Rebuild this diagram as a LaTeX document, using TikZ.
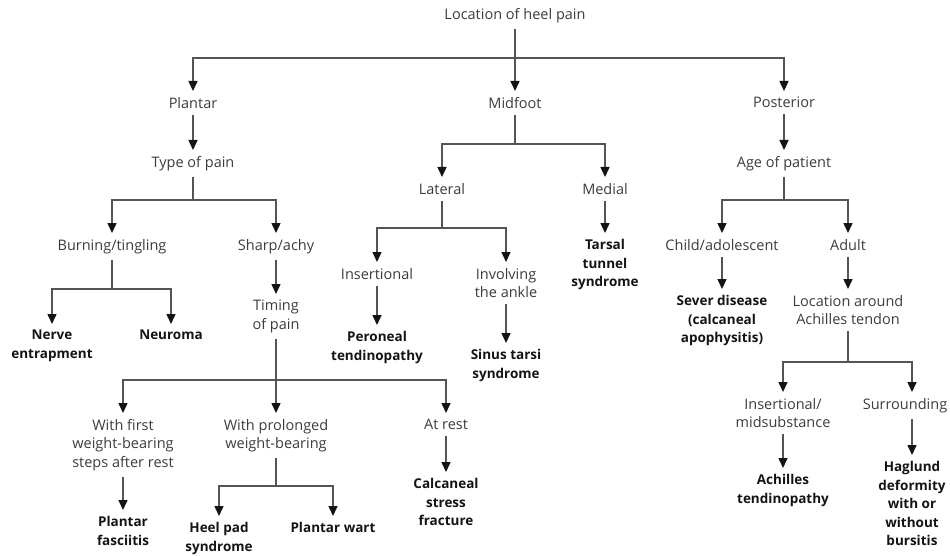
\documentclass[tikz,border=0pt]{standalone}
\usepackage{fontspec}
\setmainfont{Open Sans}
\usetikzlibrary{arrows.meta}
\definecolor{txt}{HTML}{3C3C3C}
\definecolor{bld}{HTML}{141414}
\definecolor{ln}{HTML}{555555}
\tikzset{
  lbl/.style={anchor=north, inner xsep=1pt, inner ysep=6pt, align=center,
    font=\fontsize{14.5}{18.5}\selectfont, text=txt},
  res/.style={lbl, font=\fontsize{13.5}{18.6}\selectfont\bfseries, text=bld},
  conn/.style={draw=ln, line width=1.5pt},
  arr/.style={conn, -{Triangle[width=9pt,length=10pt,color=bld]}}
}
\begin{document}
\begin{tikzpicture}[x=1pt,y=-1pt]
\useasboundingbox (0,0) rectangle (950,556);
% nodes
\node[lbl, anchor=center] (root) at (515,16) {Location of heel pain};
\node[lbl] (plantar) at (193,91) {Plantar};
\node[lbl] (midfoot) at (515,91) {Midfoot};
\node[lbl] (posterior) at (784,91) {Posterior};
% plantar branch
\node[lbl] (type) at (193,150) {Type of pain};
\node[lbl] (burn) at (112,233) {Burning/tingling};
\node[lbl] (sharp) at (276,233) {Sharp/achy};
\node[res] (nerve) at (52,324) {Nerve\\entrapment};
\node[res] (neuroma) at (171,324) {Neuroma};
\node[lbl] (timing) at (276,294) {Timing\\of pain};
\node[lbl] (wfirst) at (123,413) {With first\\weight-bearing\\steps after rest};
\node[lbl] (wprol) at (276,413) {With prolonged\\weight-bearing};
\node[lbl] (atrest) at (446,413) {At rest};
\node[res] (pfasc) at (123,510) {Plantar\\fasciitis};
\node[res] (heelpad) at (219,516) {Heel pad\\syndrome};
\node[res] (pwart) at (333,516) {Plantar wart};
\node[res] (calc) at (446,472) {Calcaneal\\stress\\fracture};
% midfoot branch
\node[lbl] (lateral) at (442,177) {Lateral};
\node[lbl] (medial) at (605,177) {Medial};
\node[res] (tarsal) at (605,233) {Tarsal\\tunnel\\syndrome};
\node[lbl] (insert) at (377,262) {Insertional};
\node[lbl] (involv) at (506,262) {Involving\\the ankle};
\node[res] (peron) at (377,325) {Peroneal\\tendinopathy};
\node[res] (sinus) at (506,343) {Sinus tarsi\\syndrome};
% posterior branch
\node[lbl] (age) at (784,150) {Age of patient};
\node[lbl] (child) at (722,233) {Child/adolescent};
\node[lbl] (adult) at (848,233) {Adult};
\node[res] (sever) at (722,289) {Sever disease\\(calcaneal\\apophysitis)};
\node[lbl] (locach) at (848,289) {Location around\\Achilles tendon};
\node[lbl] (insmid) at (783,392) {Insertional/\\midsubstance};
\node[lbl] (surr) at (905,392) {Surrounding};
\node[res] (achten) at (783,468) {Achilles\\tendinopathy};
\node[res] (haglund) at (912,455) {Haglund\\deformity\\with or\\without\\bursitis};
% junctions
\coordinate (j0) at (515,58);
\coordinate (jtype) at (193,200);
\coordinate (jburn) at (112,289);
\coordinate (jtim) at (276,380);
\coordinate (jprol) at (276,486);
\coordinate (jmid) at (515,144);
\coordinate (jlat) at (442,228);
\coordinate (jage) at (784,200);
\coordinate (jloc) at (848,362);
\coordinate (surrtop) at (912,392);
\coordinate (surrbot) at (912,419);
% connectors
\draw[conn] (root) -- (j0);
\draw[arr] (j0) -| (plantar);
\draw[arr] (j0) -- (midfoot);
\draw[arr] (j0) -| (posterior);
\draw[arr] (plantar) -- (type);
\draw[conn] (type) -- (jtype);
\draw[arr] (jtype) -| (burn);
\draw[arr] (jtype) -| (sharp);
\draw[conn] (burn) -- (jburn);
\draw[arr] (jburn) -| (nerve);
\draw[arr] (jburn) -| (neuroma);
\draw[arr] (sharp) -- (timing);
\draw[conn] (timing) -- (jtim);
\draw[arr] (jtim) -| (wfirst);
\draw[arr] (jtim) -- (wprol);
\draw[arr] (jtim) -| (atrest);
\draw[arr] (wfirst) -- (pfasc);
\draw[conn] (wprol) -- (jprol);
\draw[arr] (jprol) -| (heelpad);
\draw[arr] (jprol) -| (pwart);
\draw[arr] (atrest) -- (calc);
\draw[conn] (midfoot) -- (jmid);
\draw[arr] (jmid) -| (lateral);
\draw[arr] (jmid) -| (medial);
\draw[arr] (medial) -- (tarsal);
\draw[conn] (lateral) -- (jlat);
\draw[arr] (jlat) -| (insert);
\draw[arr] (jlat) -| (involv);
\draw[arr] (insert) -- (peron);
\draw[arr] (involv) -- (sinus);
\draw[arr] (posterior) -- (age);
\draw[conn] (age) -- (jage);
\draw[arr] (jage) -| (child);
\draw[arr] (jage) -| (adult);
\draw[arr] (child) -- (sever);
\draw[arr] (adult) -- (locach);
\draw[conn] (locach) -- (jloc);
\draw[arr] (jloc) -| (insmid);
\draw[arr] (jloc) -| (surrtop);
\draw[arr] (insmid) -- (achten);
\draw[arr] (surrbot) -- (haglund);
\end{tikzpicture}
\end{document}
